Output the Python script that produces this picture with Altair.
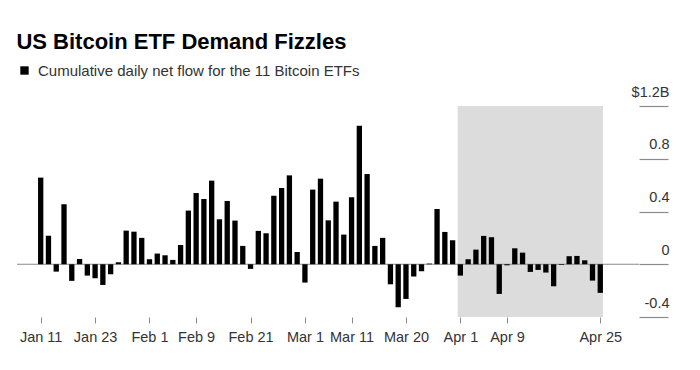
import json
import altair as alt
import pandas as pd

# Trading days, Jan 11 - Apr 25 2024
dates = [
    "Jan 11", "Jan 12", "Jan 16", "Jan 17", "Jan 18", "Jan 19", "Jan 22", "Jan 23",
    "Jan 24", "Jan 25", "Jan 26", "Jan 29", "Jan 30", "Jan 31",
    "Feb 1", "Feb 2", "Feb 5", "Feb 6", "Feb 7", "Feb 8", "Feb 9", "Feb 12", "Feb 13",
    "Feb 14", "Feb 15", "Feb 16", "Feb 20", "Feb 21", "Feb 22", "Feb 23", "Feb 26",
    "Feb 27", "Feb 28", "Feb 29",
    "Mar 1", "Mar 4", "Mar 5", "Mar 6", "Mar 7", "Mar 8", "Mar 11", "Mar 12", "Mar 13",
    "Mar 14", "Mar 15", "Mar 18", "Mar 19", "Mar 20", "Mar 21", "Mar 22", "Mar 25",
    "Mar 26", "Mar 27", "Mar 28",
    "Apr 1", "Apr 2", "Apr 3", "Apr 4", "Apr 5", "Apr 8", "Apr 9", "Apr 10", "Apr 11",
    "Apr 12", "Apr 15", "Apr 16", "Apr 17", "Apr 18", "Apr 19", "Apr 22", "Apr 23",
    "Apr 24", "Apr 25",
]

# Daily net flow, $ billions
flows = [
    0.657, 0.217, -0.056, 0.455, -0.126, 0.040, -0.086, -0.106,
    -0.157, -0.076, 0.015, 0.255, 0.247, 0.200,
    0.038, 0.081, 0.068, 0.033, 0.146, 0.407, 0.540, 0.495, 0.634,
    0.341, 0.480, 0.331, 0.139, -0.035, 0.253, 0.235, 0.520,
    0.578, 0.674, 0.093,
    -0.139, 0.566, 0.649, 0.333, 0.475, 0.225, 0.508, 1.050, 0.684,
    0.139, 0.200, -0.152, -0.326, -0.263, -0.093, -0.053, 0.005,
    0.419, 0.245, 0.182,
    -0.086, 0.038, 0.111, 0.215, 0.205, -0.225, -0.008, 0.121, 0.088,
    -0.058, -0.043, -0.063, -0.167, -0.005, 0.061, 0.063, 0.030,
    -0.124, -0.217,
]

x_tick_labels = ["Jan 11", "Jan 23", "Feb 1", "Feb 9", "Feb 21", "Mar 1",
                 "Mar 11", "Mar 20", "Apr 1", "Apr 9", "Apr 25"]
y_tick_values = [-0.4, 0, 0.4, 0.8, 1.2]
y_tick_labels = ["-0.4", "0", "0.4", "0.8", "$1.2B"]

shade_start, shade_end = "Apr 1", "Apr 25"
shade_lo, shade_hi = -0.4, 1.2

series_name = "Cumulative daily net flow for the 11 Bitcoin ETFs"

df = pd.DataFrame({"idx": list(range(len(dates))), "date": dates, "flow": flows,
                   "series": series_name})
half = 0.35
shade_df = pd.DataFrame({
    "x0": [dates.index(shade_start) - half],
    "x1": [dates.index(shade_end) + half],
    "y0": [shade_lo], "y1": [shade_hi],
})
zero_df = pd.DataFrame({"y": [0]})

FONT = "Liberation Sans"
GRAY = "#8a8a8a"
TEXT = "#333333"

x_label_expr = json.dumps(dates) + "[datum.value]"
y_label_expr = ""
for v, lab in zip(y_tick_values, y_tick_labels):
    y_label_expr += f"datum.value == {v} ? '{lab}' : "
y_label_expr += "''"

x_scale = alt.Scale(domain=[-2.405, 76.34], nice=False, zero=False)
y_scale = alt.Scale(domain=[shade_lo, shade_hi], nice=False, zero=False)

x_axis = alt.Axis(
    values=[dates.index(d) for d in x_tick_labels], labelExpr=x_label_expr,
    title=None, domain=False, grid=False, tickSize=6, tickColor=GRAY,
    labelFontSize=14.5, labelColor=TEXT, labelFont=FONT, labelPadding=7,
)
y_axis = alt.Axis(
    orient="right", values=y_tick_values, labelExpr=y_label_expr, title=None,
    domain=False, grid=False, tickSize=29, tickColor=GRAY, tickWidth=1.2,
    labelAlign="right", labelBaseline="alphabetic", labelOffset=-10, labelPadding=1,
    labelFontSize=14.5, labelColor=TEXT, labelFont=FONT,
)

shade = alt.Chart(shade_df).mark_rect(color="#dcdcdc").encode(
    x=alt.X("x0:Q", scale=x_scale, axis=x_axis), x2="x1:Q",
    y=alt.Y("y0:Q", scale=y_scale, axis=y_axis), y2="y1:Q",
)

zero = alt.Chart(zero_df).mark_rule(color=GRAY, strokeWidth=1.2).encode(
    y=alt.Y("y:Q", scale=y_scale),
)

bars = alt.Chart(df).mark_bar(size=5.3).encode(
    x=alt.X("idx:Q", scale=x_scale),
    y=alt.Y("flow:Q", scale=y_scale),
    color=alt.Color("series:N", scale=alt.Scale(range=["#000000"]),
                    legend=alt.Legend(title=None, orient="none", legendX=0, legendY=-43,
                                      symbolType="square", symbolSize=70,
                                      symbolStrokeWidth=0, labelFontSize=15,
                                      labelLimit=0, labelColor=TEXT, labelFont=FONT,
                                      labelOffset=6)),
)

chart = alt.layer(shade, zero, bars).properties(
    width=622, height=211,
    padding={"left": 8, "top": 23, "right": 5, "bottom": 5},
    title=alt.TitleParams(
        text="US Bitcoin ETF Demand Fizzles", anchor="start", fontSize=22,
        fontWeight="bold", font=FONT, color="#000000", offset=9,
    ),
).configure_view(stroke=None)

chart.save("out.html", embed_options={"renderer": "svg", "actions": False})
